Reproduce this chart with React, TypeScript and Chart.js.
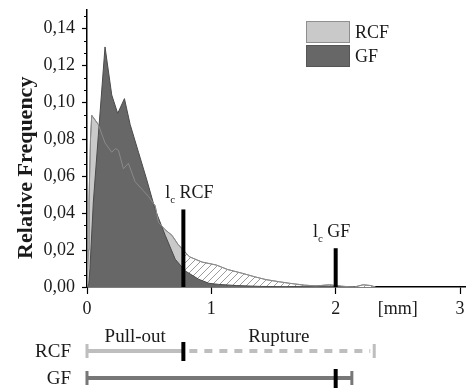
import React, { useEffect, useRef } from "react";
import { Chart, registerables } from "chart.js";

Chart.register(...registerables);

const SERIF = "'Liberation Serif', 'Times New Roman', serif";

// ---- data ----
const seriesNames = ["RCF", "GF"];

const rcfX = [0, 0.01, 0.016, 0.028, 0.038, 0.091, 0.145, 0.199, 0.23, 0.253, 0.293, 0.333, 0.387, 0.441, 0.495, 0.548, 0.575, 0.629, 0.683, 0.733, 0.775, 0.823, 0.925, 1.04, 1.13, 1.25, 1.35, 1.44, 1.55, 1.63, 1.75, 1.84, 1.95, 2.05, 2.15, 2.22, 2.28, 2.32];
const rcfY = [0, 0.02, 0.046, 0.08, 0.093, 0.088, 0.078, 0.073, 0.075, 0.074, 0.064, 0.067, 0.057, 0.053, 0.049, 0.044, 0.035, 0.031, 0.028, 0.023, 0.02, 0.0164, 0.0135, 0.0119, 0.0095, 0.0074, 0.0055, 0.004, 0.0028, 0.002, 0.001, 0.0006, 0.0012, 0.0004, 0, 0.0012, 0.0008, 0];

const gfX = [0, 0.015, 0.024, 0.051, 0.091, 0.145, 0.199, 0.247, 0.301, 0.347, 0.414, 0.481, 0.548, 0.629, 0.71, 0.79, 0.898, 0.98, 1.06, 1.2, 1.4, 1.6, 1.9, 2.0, 2.13];
const gfY = [0, 0.002, 0.01, 0.046, 0.082, 0.13, 0.104, 0.094, 0.102, 0.088, 0.073, 0.058, 0.042, 0.028, 0.015, 0.0087, 0.0042, 0.002, 0.0014, 0.0008, 0.0003, 0.0002, 0.0005, 0.0003, 0];

const criticalLength = [0.775, 2.0];
const criticalMarkHeight = [0.042, 0.021];
const rangeEnd = [2.31, 2.13];
const phaseNames = ["Pull-out", "Rupture"];

const yTickValues = [0, 0.02, 0.04, 0.06, 0.08, 0.1, 0.12, 0.14];
const xTickValues = [0, 1, 2, 2.5, 3];
const xTickLabels = ["0", "1", "2", "[mm]", "3"];

// ---- styles ----
const fillColors = ["#c9c9c9", "#676767"];
const lineColors = ["#8a8a8a", "#4a4a4a"];
const rowColors = ["#bebebe", "#777777"];
const TEXT = "#1a1a1a";

function makeHatch(ctx: CanvasRenderingContext2D) {
  const c = document.createElement("canvas");
  const s = 7;
  c.width = s;
  c.height = s;
  const g = c.getContext("2d")!;
  g.fillStyle = "#ffffff";
  g.fillRect(0, 0, s, s);
  g.strokeStyle = "#9c9c9c";
  g.lineWidth = 1;
  g.beginPath();
  g.moveTo(0, s);
  g.lineTo(s, 0);
  g.moveTo(-1, 1);
  g.lineTo(1, -1);
  g.moveTo(s - 1, s + 1);
  g.lineTo(s + 1, s - 1);
  g.stroke();
  return ctx.createPattern(c, "repeat")!;
}

const decorPlugin = {
  id: "decor",
  afterDraw(chart: any) {
    const ctx: CanvasRenderingContext2D = chart.ctx;
    const xs = chart.scales.x;
    const ys = chart.scales.y;
    const area = chart.chartArea;
    ctx.save();

    // minor ticks on y axis
    ctx.strokeStyle = "#000";
    ctx.lineWidth = 1;
    const step = 0.02 / 3;
    for (let k = 1; k * step <= ys.max + 1e-9; k++) {
      if (k % 3 === 0) continue;
      const py = Math.round(ys.getPixelForValue(k * step)) + 0.5;
      ctx.beginPath();
      ctx.moveTo(area.left - 3, py);
      ctx.lineTo(area.left, py);
      ctx.stroke();
    }

    // critical length labels
    ctx.fillStyle = TEXT;
    ctx.textBaseline = "alphabetic";
    criticalLength.forEach((lc, i) => {
      const px = xs.getPixelForValue(lc);
      const py = ys.getPixelForValue(criticalMarkHeight[i]) - 11;
      const big = `18px ${SERIF}`;
      const small = `11px ${SERIF}`;
      ctx.font = big;
      const wl = ctx.measureText("l").width;
      const wn = ctx.measureText(" " + seriesNames[i]).width;
      ctx.font = small;
      const wc = ctx.measureText("c").width;
      const total = wl + wc + wn;
      const x0 = px - total / 2 + (i === 0 ? 6 : -4);
      ctx.textAlign = "left";
      ctx.font = big;
      ctx.fillText("l", x0, py);
      ctx.font = small;
      ctx.fillText("c", x0 + wl, py + 5);
      ctx.font = big;
      ctx.fillText(" " + seriesNames[i], x0 + wl + wc, py);
    });

    // legend
    const lx = area.left + 219;
    let ly = area.top + 11;
    const bw = 44;
    const bh = 22;
    seriesNames.forEach((name, i) => {
      ctx.fillStyle = fillColors[i];
      ctx.fillRect(lx, ly, bw, bh);
      ctx.strokeStyle = i === 0 ? "#8f8f8f" : "#555555";
      ctx.lineWidth = 1;
      ctx.strokeRect(lx + 0.5, ly + 0.5, bw - 1, bh - 1);
      ctx.fillStyle = TEXT;
      ctx.font = `18px ${SERIF}`;
      ctx.textAlign = "left";
      ctx.textBaseline = "middle";
      ctx.fillText(name, lx + bw + 5, ly + bh / 2 + 1);
      ly += bh + 2;
    });

    // phase rows below the axis
    const rowY = [area.bottom + 64, area.bottom + 91];
    const x0 = xs.getPixelForValue(0);
    ctx.textBaseline = "alphabetic";
    ctx.font = `19px ${SERIF}`;
    ctx.fillStyle = TEXT;
    ctx.textAlign = "center";
    const phaseBounds = [
      [0, criticalLength[0]],
      [criticalLength[0], rangeEnd[0]],
    ];
    phaseNames.forEach((p, i) => {
      const mid = (phaseBounds[i][0] + phaseBounds[i][1]) / 2;
      ctx.fillText(p, xs.getPixelForValue(mid), area.bottom + 55);
    });

    seriesNames.forEach((name, i) => {
      const y = rowY[i];
      const xl = xs.getPixelForValue(criticalLength[i]);
      const xe = xs.getPixelForValue(rangeEnd[i]);
      ctx.fillStyle = TEXT;
      ctx.font = `19px ${SERIF}`;
      ctx.textAlign = "right";
      ctx.textBaseline = "middle";
      ctx.fillText(name, 71, y + 1);

      ctx.strokeStyle = rowColors[i];
      ctx.lineCap = "butt";
      ctx.lineWidth = 4;
      ctx.setLineDash([]);
      ctx.beginPath();
      ctx.moveTo(x0, y);
      ctx.lineTo(xl, y);
      ctx.stroke();
      ctx.beginPath();
      if (i === 0) ctx.setLineDash([8, 7]);
      ctx.moveTo(xl + (i === 0 ? 6 : 0), y);
      ctx.lineTo(xe - (i === 0 ? 4 : 0), y);
      ctx.stroke();
      ctx.setLineDash([]);
      ctx.lineWidth = 3;
      ctx.beginPath();
      ctx.moveTo(x0, y - 7);
      ctx.lineTo(x0, y + 7);
      ctx.moveTo(xe, y - 7);
      ctx.lineTo(xe, y + 7);
      ctx.stroke();
      ctx.strokeStyle = "#000";
      ctx.lineWidth = 4;
      ctx.beginPath();
      ctx.moveTo(xl, y - 9);
      ctx.lineTo(xl, y + 10);
      ctx.stroke();
    });

    ctx.restore();
  },
};

export default function App() {
  const ref = useRef<HTMLCanvasElement>(null);

  useEffect(() => {
    const canvas = ref.current!;
    const ctx = canvas.getContext("2d")!;
    const hatch = makeHatch(ctx);
    const rcfPts = rcfX.map((x, i) => ({ x, y: rcfY[i] }));
    const gfPts = gfX.map((x, i) => ({ x, y: gfY[i] }));
    const markPts = criticalLength.map((lc, i) => [
      { x: lc, y: 0 },
      { x: lc, y: criticalMarkHeight[i] },
    ]);

    const chart = new Chart(canvas, {
      type: "line",
      data: {
        datasets: [
          {
            label: "lc " + seriesNames[0],
            data: markPts[0],
            borderColor: "#000",
            borderWidth: 4,
            borderCapStyle: "butt",
            pointRadius: 0,
            fill: false,
            order: 0,
          },
          {
            label: "lc " + seriesNames[1],
            data: markPts[1],
            borderColor: "#000",
            borderWidth: 4,
            borderCapStyle: "butt",
            pointRadius: 0,
            fill: false,
            order: 0,
          },
          {
            label: seriesNames[0] + " outline",
            data: rcfPts,
            borderColor: lineColors[0],
            borderWidth: 1,
            pointRadius: 0,
            fill: false,
            order: 1,
          },
          {
            label: seriesNames[1],
            data: gfPts,
            borderColor: lineColors[1],
            backgroundColor: fillColors[1],
            borderWidth: 1,
            pointRadius: 0,
            fill: "origin",
            order: 2,
          },
          {
            label: seriesNames[0],
            data: rcfPts,
            borderColor: lineColors[0],
            backgroundColor: fillColors[0],
            borderWidth: 1,
            pointRadius: 0,
            fill: "origin",
            order: 3,
            segment: {
              backgroundColor: (c: any) =>
                c.p0.parsed.x >= criticalLength[0] - 1e-9 ? hatch : fillColors[0],
            },
          },
        ] as any,
      },
      options: {
        responsive: false,
        animation: false,
        events: [],
        layout: { padding: { left: 0, right: 6, top: 10, bottom: 71 } },
        plugins: {
          legend: { display: false },
          tooltip: { enabled: false },
        },
        scales: {
          x: {
            type: "linear",
            min: 0,
            max: 3.04,
            afterFit: (s: any) => {
              s.height = 30;
              s.paddingLeft = 0;
              s.paddingRight = 0;
            },
            afterBuildTicks: (s: any) => {
              s.ticks = xTickValues.map((v) => ({ value: v }));
            },
            border: { color: "#000", width: 1.5 },
            grid: {
              drawOnChartArea: false,
              tickLength: 7,
              tickWidth: 1.2,
              tickColor: (c: any) =>
                c.tick && xTickLabels[xTickValues.indexOf(c.tick.value)] === "[mm]"
                  ? "rgba(0,0,0,0)"
                  : "#000",
            },
            ticks: {
              autoSkip: false,
              maxRotation: 0,
              padding: 4,
              color: TEXT,
              font: { family: SERIF, size: 18 },
              callback: (v: any) => {
                const idx = xTickValues.indexOf(Number(v));
                return idx >= 0 ? xTickLabels[idx] : "";
              },
            },
          },
          y: {
            type: "linear",
            min: 0,
            max: 0.15,
            afterFit: (s: any) => {
              s.width = 87;
              s.paddingTop = 0;
              s.paddingBottom = 0;
            },
            afterBuildTicks: (s: any) => {
              s.ticks = yTickValues.map((v) => ({ value: v }));
            },
            border: { color: "#000", width: 1.5 },
            grid: {
              drawOnChartArea: false,
              tickLength: 5,
              tickWidth: 1.2,
              tickColor: "#000",
            },
            ticks: {
              padding: 7,
              color: TEXT,
              font: { family: SERIF, size: 18 },
              callback: (v: any) => Number(v).toFixed(2).replace(".", ","),
            },
            title: {
              display: true,
              text: "Relative Frequency" + "\u00A0".repeat(7),
              color: TEXT,
              font: { family: SERIF, size: 22, weight: "bold" },
              padding: { top: 13, bottom: 0 },
            },
          },
        },
      },
      plugins: [decorPlugin],
    });
    return () => chart.destroy();
  }, []);

  return (
    <div style={{ position: "fixed", left: 0, top: 0, width: 471, height: 388, background: "#fff" }}>
      <canvas ref={ref} width={471} height={388} />
    </div>
  );
}
